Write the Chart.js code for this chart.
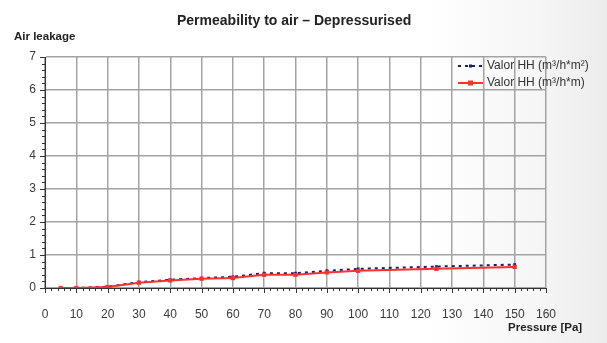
<!DOCTYPE html>
<html>
<head>
<meta charset="utf-8">
<script src="https://cdn.jsdelivr.net/npm/chart.js@4"></script>
<style>
  html, body { margin: 0; padding: 0; }
  body {
    width: 607px; height: 343px; overflow: hidden; position: relative;
    background: linear-gradient(90deg, #ffffff 0%, #ffffff 70%, #f6f6f6 88%, #ececec 100%);
    font-family: "Liberation Sans", Arial, sans-serif;
  }
  #wrap { position: absolute; left: 0; top: 0; width: 607px; height: 343px; }
  .lbl { position: absolute; font-family: "Liberation Sans", Arial, sans-serif; font-weight: bold; color: #222; white-space: nowrap; }
  #title { left: 177px; top: 12px; font-size: 14px; }
  #ylab { left: 14px; top: 30px; font-size: 11.5px; }
  #xlab { left: 508px; top: 321px; font-size: 11.5px; }
</style>
</head>
<body>
<div id="wrap"><canvas id="chart" width="607" height="343"></canvas></div>
<div class="lbl" id="title">Permeability to air – Depressurised</div>
<div class="lbl" id="ylab">Air leakage</div>
<div class="lbl" id="xlab">Pressure [Pa]</div>
<script>
// pressure steps (Pa)
const pressure = [5, 10, 20, 30, 40, 50, 60, 70, 80, 90, 100, 125, 150];
// m3/h*m2
const valorArea = [0, 0, 0.04, 0.18, 0.25, 0.3, 0.34, 0.45, 0.45, 0.52, 0.58, 0.65, 0.71];
// m3/h*m
const valorLength = [0, 0, 0.03, 0.16, 0.23, 0.28, 0.3, 0.4, 0.4, 0.47, 0.52, 0.58, 0.64];

const xTicks = [0, 10, 20, 30, 40, 50, 60, 70, 80, 90, 100, 110, 120, 130, 140, 150, 160];
const yTicks = [0, 1, 2, 3, 4, 5, 6, 7];

const legendNames = ["Valor HH (m³/h*m²)", "Valor HH (m³/h*m)"];

const blue = "#1c1c6e";
const red = "#ff3030";

// minor ticks + legend
const extras = {
  id: "extras",
  afterDraw(chart) {
    const ctx = chart.ctx;
    const x = chart.scales.x, y = chart.scales.y;
    const area = chart.chartArea;
    ctx.save();
    ctx.strokeStyle = "#333";
    ctx.lineWidth = 1;
    ctx.beginPath();
    for (let v = 0; v <= 7.0001; v += 0.2) {
      const py = Math.round(y.getPixelForValue(v)) + 0.5;
      const len = Math.abs(v - Math.round(v)) < 0.01 ? 5 : 3;
      ctx.moveTo(area.left - len, py);
      ctx.lineTo(area.left, py);
    }
    for (let v = 0; v <= 160; v += 2) {
      const px = Math.round(x.getPixelForValue(v)) + 0.5;
      const len = v % 10 === 0 ? 5 : 3;
      ctx.moveTo(px, area.bottom);
      ctx.lineTo(px, area.bottom + len);
    }
    ctx.stroke();

    // legend
    ctx.font = "12px 'Liberation Sans', Arial, sans-serif";
    ctx.textBaseline = "middle";
    const lx = 458, rows = [66, 83];
    ctx.strokeStyle = blue;
    ctx.lineWidth = 2;
    ctx.setLineDash([3, 4]);
    ctx.beginPath();
    ctx.moveTo(lx, rows[0]); ctx.lineTo(lx + 25, rows[0]);
    ctx.stroke();
    ctx.setLineDash([]);
    ctx.fillStyle = blue;
    ctx.fillRect(lx + 11, rows[0] - 1.5, 3, 3);
    ctx.strokeStyle = red;
    ctx.beginPath();
    ctx.moveTo(lx, rows[1]); ctx.lineTo(lx + 25, rows[1]);
    ctx.stroke();
    ctx.fillStyle = red;
    ctx.fillRect(lx + 10, rows[1] - 2.5, 5, 5);
    ctx.fillStyle = "#333";
    ctx.fillText(legendNames[0], lx + 29, rows[0]);
    ctx.fillText(legendNames[1], lx + 29, rows[1]);
    ctx.restore();
  }
};

new Chart(document.getElementById("chart").getContext("2d"), {
  type: "line",
  data: {
    datasets: [
      {
        label: legendNames[1],
        data: pressure.map((p, i) => ({ x: p, y: valorLength[i] })),
        borderColor: red,
        backgroundColor: red,
        borderWidth: 2,
        pointStyle: "rect",
        pointRadius: 3,
        pointBorderWidth: 0,
        tension: 0,
      },
      {
        label: legendNames[0],
        data: pressure.map((p, i) => ({ x: p, y: valorArea[i] })),
        borderColor: blue,
        backgroundColor: blue,
        borderWidth: 2,
        borderDash: [3, 4],
        pointStyle: "rect",
        pointRadius: 2,
        pointBorderWidth: 0,
        tension: 0,
      },
    ],
  },
  options: {
    responsive: false,
    animation: false,
    layout: { padding: { left: 0, right: 61, top: 57, bottom: 0 } },
    plugins: { legend: { display: false }, tooltip: { enabled: false } },
    scales: {
      x: {
        type: "linear",
        min: 0,
        max: 160,
        afterBuildTicks: (s) => { s.ticks = xTicks.map((v) => ({ value: v })); },
        afterFit: (s) => { s.height = 55; },
        grid: { color: "#a3a3a3", lineWidth: 1.5, drawTicks: false },
        border: { color: "#333", width: 1 },
        ticks: { padding: 19, color: "#3a3a3a", font: { size: 12, family: "'Liberation Sans', Arial, sans-serif" }, maxRotation: 0 },
      },
      y: {
        min: 0,
        max: 7,
        afterBuildTicks: (s) => { s.ticks = yTicks.map((v) => ({ value: v })); },
        afterFit: (s) => { s.width = 45; },
        grid: { color: "#a3a3a3", lineWidth: 1.5, drawTicks: false },
        border: { color: "#333", width: 1 },
        ticks: { padding: 9, color: "#3a3a3a", font: { size: 12, family: "'Liberation Sans', Arial, sans-serif" } },
      },
    },
  },
  plugins: [extras],
});
</script>
</body>
</html>
